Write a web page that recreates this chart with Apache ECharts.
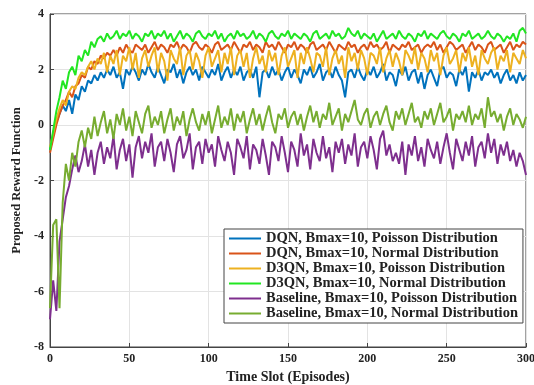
<!DOCTYPE html>
<html>
<head>
<meta charset="utf-8">
<script src="https://cdn.jsdelivr.net/npm/echarts@6/dist/echarts.min.js"></script>
<style>
  html, body { margin: 0; padding: 0; background: #fff; }
  #chart { width: 534px; height: 385px; }
</style>
</head>
<body>
<div id="chart"></div>
<script>
// episodes sampled every 2 slots
const episodes = [];
for (let e = 0; e <= 300; e += 2) episodes.push(e);

const seriesNames = [
  'DQN, Bmax=10, Poisson Distribution',
  'DQN, Bmax=10, Normal Distribution',
  'D3QN, Bmax=10, Poisson Distribution',
  'D3QN, Bmax=10, Normal Distribution',
  'Baseline, Bmax=10, Poisson Distribution',
  'Baseline, Bmax=10, Normal Distribution'
];
const colors = ['#0072BD', '#D95319', '#EDB120', '#22E622', '#7E2F8E', '#77AC30'];

const dqnPoisson = [
  -0.9, -0.4, 0.1, 0.4, 0.7, 0.5, 0.9, 0.4, 1.1, 0.9,
  1.4, 1.2, 1.6, 1.5, 1.8, 1.6, 1.9, 1.7, 2.0, 1.8,
  2.1, 1.7, 1.9, 1.3, 2.0, 1.8, 2.1, 1.9, 1.6, 2.0,
  1.8, 2.2, 1.9, 1.7, 2.1, 1.8, 1.5, 2.0, 1.9, 2.2,
  1.7, 2.0, 1.5, 1.9, 2.1, 1.8, 2.0, 1.6, 2.1, 1.9,
  1.7, 2.0, 1.8, 2.2, 1.6, 1.9, 2.1, 1.7, 2.0, 1.8,
  2.1, 1.6, 1.9, 2.0, 1.7, 2.1, 1.0, 1.9, 2.0, 1.7,
  2.1, 1.8, 2.0, 1.6, 1.9, 2.1, 1.7, 2.0, 1.8, 1.5,
  2.0, 1.8, 2.1, 1.7, 1.9, 2.2, 1.6, 1.9, 2.0, 1.7,
  2.1, 1.8, 1.6, 1.0, 1.9, 2.0, 1.7, 2.1, 1.8, 1.6,
  2.0, 1.8, 2.1, 1.7, 1.9, 2.2, 1.6, 1.9, 1.8, 1.4,
  2.0, 1.8, 2.1, 1.6, 1.9, 2.0, 1.5, 1.9, 1.3, 1.8,
  2.0, 1.7, 1.4, 2.0, 2.1, 1.7, 1.9, 1.8, 1.4, 2.0,
  1.8, 2.1, 1.2, 1.9, 1.7, 2.0, 1.6, 1.9, 1.8, 2.0,
  1.7, 1.9, 1.5, 1.8, 2.0, 1.6, 1.8, 1.5, 1.9, 1.6,
  1.8
];
const dqnNormal = [
  -1.0, -0.5, 0.0, 0.4, 0.7, 0.9, 1.2, 1.0, 1.4, 1.5,
  1.8, 1.7, 2.1, 2.0, 2.3, 2.2, 2.5, 2.4, 2.6, 2.5,
  2.7, 2.5, 2.8, 2.6, 2.9, 2.7, 2.6, 2.9, 2.8, 2.7,
  2.9, 2.6, 2.8, 3.0, 2.7, 2.9, 2.8, 2.6, 2.9, 2.8,
  3.0, 2.7, 2.9, 2.8, 2.6, 2.9, 3.0, 2.8, 2.7, 2.9,
  2.8, 2.6, 2.9, 3.0, 2.7, 2.8, 2.9, 2.7, 3.0, 2.8,
  2.6, 2.9, 2.8, 3.0, 2.7, 2.9, 2.8, 2.6, 3.0, 2.8,
  2.9, 2.7, 3.0, 2.8, 2.6, 2.9, 2.8, 3.0, 2.7, 2.9,
  2.8, 2.6, 2.9, 3.0, 2.7, 2.8, 2.9, 2.7, 3.0, 2.8,
  2.6, 2.9, 2.8, 2.7, 3.0, 2.8, 2.9, 2.6, 2.8, 2.9,
  2.7, 3.0, 2.8, 2.9, 2.7, 2.8, 3.0, 2.6, 2.9, 2.8,
  2.7, 2.9, 2.8, 3.0, 2.7, 2.8, 2.9, 2.6, 2.8, 2.9,
  2.8, 3.0, 2.7, 2.9, 2.6, 2.8, 3.0, 2.9, 2.7, 2.8,
  2.9, 2.6, 2.8, 3.0, 2.7, 2.9, 2.8, 2.6, 2.9, 3.0,
  2.7, 2.8, 2.9, 2.6, 2.8, 3.0, 2.7, 2.9, 2.8, 3.0,
  2.9
];
const d3qnPoisson = [
  -0.8, -0.3, 0.2, 0.6, 0.9, 0.7, 1.2, 1.4, 1.3, 1.7,
  1.9, 1.8, 2.1, 2.3, 2.0, 2.4, 2.2, 2.6, 1.9, 2.5,
  2.2, 2.7, 1.8, 2.5, 2.3, 2.8, 2.0, 2.6, 1.7, 2.4,
  2.7, 2.1, 2.5, 2.8, 1.9, 2.6, 2.3, 1.6, 2.7, 2.4,
  2.2, 2.8, 1.8, 2.5, 2.7, 2.0, 2.6, 2.3, 1.7, 2.5,
  2.8, 2.1, 2.4, 2.7, 1.9, 2.6, 2.2, 2.8, 1.8, 2.5,
  2.7, 2.1, 2.6, 1.7, 2.4, 2.8, 2.2, 2.5, 1.9, 2.7,
  2.3, 2.6, 1.8, 2.5, 2.8, 2.1, 2.4, 2.7, 1.7, 2.6,
  2.2, 2.8, 2.4, 1.9, 2.6, 2.5, 2.1, 2.8, 1.8, 2.4,
  2.7, 2.2, 2.5, 1.7, 2.8, 2.3, 2.6, 2.0, 2.7, 2.4,
  1.8, 2.6, 2.5, 2.2, 2.8, 1.9, 2.4, 2.7, 2.1, 2.6,
  2.3, 1.8, 2.7, 2.5, 2.2, 2.8, 2.0, 2.6, 2.4, 1.9,
  2.7, 2.3, 2.6, 1.8, 2.5, 2.8, 2.2, 2.4, 2.7, 1.9,
  2.6, 2.3, 2.8, 2.1, 2.5, 1.8, 2.7, 2.4, 2.2, 2.6,
  2.8, 2.0, 2.5, 2.3, 2.7, 1.9, 2.6, 2.4, 2.2, 2.7,
  2.4
];
const d3qnNormal = [
  -0.9, -0.2, 0.5, 1.0, 1.6, 1.3, 1.9, 2.1, 1.8, 2.5,
  2.3, 2.7, 2.5, 3.0, 2.8, 3.1, 3.2, 3.0, 3.3, 3.1,
  3.2, 3.4, 3.1, 3.3, 3.2, 3.4, 3.1, 3.3, 3.2, 3.0,
  3.3, 3.2, 3.4, 3.1, 3.3, 3.2, 3.4, 3.1, 3.3, 3.0,
  3.2, 3.4, 3.1, 3.3, 3.2, 3.0, 3.3, 3.4, 3.2, 3.1,
  3.3, 3.2, 3.4, 3.1, 3.3, 3.0, 3.2, 3.3, 3.1, 3.4,
  3.2, 3.3, 3.1, 3.2, 3.4, 3.1, 3.3, 3.2, 3.0, 3.3,
  3.4, 3.2, 3.1, 3.3, 3.2, 3.4, 3.1, 3.3, 3.2, 3.1,
  3.3, 3.2, 3.0, 3.3, 3.4, 3.1, 3.2, 3.3, 3.1, 3.4,
  3.2, 3.3, 3.1, 3.2, 3.5, 3.3, 3.2, 3.4, 3.1, 3.3,
  3.2, 3.1, 3.3, 3.0, 3.2, 3.4, 3.1, 3.2, 3.3, 3.1,
  3.4, 3.2, 3.1, 3.3, 3.2, 3.0, 3.3, 3.2, 3.4, 3.1,
  3.3, 3.2, 3.1, 3.3, 3.4, 3.2, 3.1, 3.3, 3.2, 3.0,
  3.3, 3.2, 3.4, 3.1, 3.2, 3.3, 3.1, 3.2, 3.4, 3.2,
  3.1, 3.3, 3.2, 3.0, 3.2, 3.1, 3.3, 3.0, 3.4, 3.5,
  3.3
];
const basePoisson = [
  -7.0, -5.6, -6.7, -4.2, -3.4, -2.6, -2.2, -1.6, -1.1, -1.7,
  -1.3, -0.7, -1.5, -0.9, -1.8, -1.0, -0.6, -1.4, -0.8, -1.2,
  -0.4, -1.6, -0.9, -0.5, -1.3, -0.7, -1.9, -0.8, -0.4, -1.2,
  -0.6, -1.0, -0.3, -1.5, -0.8, -0.6, -1.3, -0.5, -1.0, -1.7,
  -0.7, -0.4, -1.2, -0.9, -0.3, -1.6, -0.8, -0.6, -1.4, -0.5,
  -1.0, -0.7, -1.5, -0.4, -0.9, -1.3, -0.6, -1.0, -1.8, -0.5,
  -0.8, -1.2, -0.4, -1.6, -0.7, -0.9, -1.4, -0.5, -1.1, -1.8,
  -0.6, -0.8, -1.3, -0.4, -1.0, -1.7, -0.6, -0.9, -1.5, -0.3,
  -1.1, -0.7, -1.6, -0.5, -1.0, -1.3, -0.4, -1.2, -0.8, -1.7,
  -0.6, -1.0, -0.5, -1.4, -0.7, -1.1, -0.3, -1.5, -0.8, -0.6,
  -1.2, -0.4, -0.9, -1.6, -0.5, -0.2, -1.1, -0.7, -1.3, -1.0,
  -1.4, -0.6, -1.8, -0.7, -1.1, -0.4, -1.3, -0.8, -1.5, -0.5,
  -0.9, -1.2, -0.6, -1.4, -0.8, -0.3, -1.0, -1.6, -0.5, -0.9,
  -1.3, -0.6, -1.1, -0.4, -1.5, -0.8, -0.6, -1.2, -0.3, -1.0,
  -0.5, -1.4, -0.7, -1.1, -0.6, -1.3, -0.9, -1.5, -1.0, -1.3,
  -1.8
];
const baseNormal = [
  -6.6, -3.6, -3.4, -6.6, -2.8, -1.4, -2.0, -1.0, -1.5, -0.6,
  -0.2, -0.8, -0.1, -0.5, 0.3, -0.4, 0.1, 0.5, -0.3, 0.2,
  -0.5, 0.4, 0.0, 0.6, -0.2, 0.3, -0.4, 0.5, 0.1, -0.3,
  0.4, 0.7, -0.1, 0.3, 0.0, 0.5, -0.3, 0.2, 0.6, -0.2,
  0.3, 0.0, 0.5, -0.4, 0.2, 0.6, 0.1, -0.2, 0.4, 0.0,
  0.5, -0.3, 0.2, 0.7, -0.1, 0.3, 0.0, 0.6, -0.2, 0.4,
  0.1, 0.5, -0.3, 0.2, 0.6, 0.0, 0.4, -0.2, 0.3, 0.7,
  0.1, -0.3, 0.4, 0.2, 0.6, -0.1, 0.3, 0.5, 0.0, 0.4,
  -0.2, 0.3, 0.7, 0.1, 0.5, -0.1, 0.4, 0.2, 0.8, 0.0,
  0.3, 0.6, -0.2, 0.4, 0.1, 0.5, 0.9, 0.2, 0.0, 0.4,
  0.6, -0.1, 0.3, 0.5, 0.0, 0.4, 0.7, 0.1, -0.2, 0.5,
  0.2, 0.6, 0.0, 0.4, 0.8, 0.1, 0.3, -0.1, 0.5, 0.2,
  0.6, 0.0, 0.4, 0.8, 0.1, 0.3, 0.6, -0.2, 0.4, 0.2,
  0.5, 0.1, 0.7, 0.0, 0.4, 0.2, 0.6, -0.1, 1.0, 0.3,
  0.5, 0.1, 0.4, -0.2, 0.3, 0.6, 0.0, 0.4, 0.2, -0.1,
  0.3
];

const allData = [dqnPoisson, dqnNormal, d3qnPoisson, d3qnNormal, basePoisson, baseNormal];

const font = 'Liberation Serif, Times New Roman, serif';
const chart = echarts.init(document.getElementById('chart'), null, { renderer: 'canvas' });

chart.setOption({
  animation: false,
  textStyle: { fontFamily: font },
  grid: {
    left: 50, right: 8, top: 14, bottom: 38,
    outerBoundsMode: 'none', containLabel: false,
    show: true, borderColor: '#444', borderWidth: 1
  },
  legend: {
    orient: 'vertical',
    left: 224, top: 229,
    icon: 'path://M0,0H32V2H0Z',
    itemWidth: 32, itemHeight: 2.5, itemGap: 0, itemTextGap: 5,
    padding: [2, 5, 2, 5],
    backgroundColor: '#fff',
    borderColor: '#444', borderWidth: 1, borderRadius: 0,
    textStyle: { fontFamily: font, fontWeight: 'bold', fontSize: 14.5, lineHeight: 15, color: '#222' },
    data: seriesNames
  },
  xAxis: {
    type: 'value', min: 0, max: 300, interval: 50,
    name: 'Time Slot (Episodes)', nameLocation: 'middle', nameGap: 23,
    nameTextStyle: { fontFamily: font, fontWeight: 'bold', fontSize: 14, color: '#222' },
    axisLine: { onZero: false, lineStyle: { color: '#444' } },
    axisTick: { inside: true, length: 4, lineStyle: { color: '#444' } },
    axisLabel: { fontFamily: font, fontWeight: 'bold', fontSize: 12, color: '#222', margin: 6 },
    splitLine: { show: true, lineStyle: { color: '#e3e3e3' } }
  },
  yAxis: {
    type: 'value', min: -8, max: 4, interval: 2,
    name: 'Proposed Reward Function', nameLocation: 'middle', nameGap: 27,
    nameTextStyle: { fontFamily: font, fontWeight: 'bold', fontSize: 12.5, color: '#222' },
    axisLine: { show: true, onZero: false, lineStyle: { color: '#444' } },
    axisTick: { show: true, inside: true, length: 4, lineStyle: { color: '#444' } },
    axisLabel: { fontFamily: font, fontWeight: 'bold', fontSize: 12, color: '#222', margin: 6 },
    splitLine: { show: true, lineStyle: { color: '#e3e3e3' } }
  },
  series: allData.map((vals, i) => ({
    name: seriesNames[i],
    type: 'line',
    data: vals.map((v, k) => [episodes[k], v]),
    symbol: 'none',
    lineStyle: { color: colors[i], width: 2 },
    itemStyle: { color: colors[i] },
    z: 2 + i
  }))
});
</script>
</body>
</html>
